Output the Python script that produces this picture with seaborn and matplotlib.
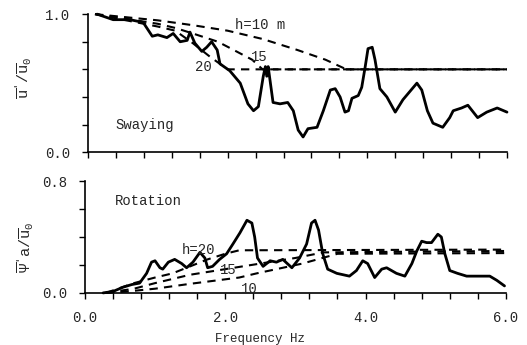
import numpy as np
import matplotlib
matplotlib.use("Agg")
import matplotlib.pyplot as plt
import seaborn as sns

# --------------------------------------------------------------
# Data
# --------------------------------------------------------------
# Swaying response (solid)
sway_f = [0.13, 0.36, 0.6, 0.79, 0.92, 1.0, 1.13, 1.22, 1.32, 1.42, 1.46, 1.53, 1.63,
          1.7, 1.77, 1.85, 1.89, 2.03, 2.18, 2.29, 2.37, 2.44, 2.51, 2.54, 2.56, 2.58,
          2.65, 2.75, 2.86, 2.94, 3.01, 3.08, 3.15, 3.28, 3.37, 3.47, 3.54, 3.61,
          3.68, 3.73, 3.78, 3.87, 3.92, 3.97, 4.01, 4.07, 4.11, 4.18, 4.28, 4.40,
          4.51, 4.71, 4.78, 4.86, 4.94, 5.08, 5.18, 5.23, 5.35, 5.44, 5.58, 5.71,
          5.86, 6.0]
sway_v = [1.0, 0.96, 0.96, 0.94, 0.84, 0.85, 0.83, 0.86, 0.80, 0.81, 0.87, 0.79, 0.73,
          0.76, 0.80, 0.74, 0.64, 0.59, 0.50, 0.35, 0.30, 0.33, 0.55, 0.62, 0.55, 0.62,
          0.36, 0.35, 0.36, 0.30, 0.16, 0.11, 0.17, 0.18, 0.30, 0.45, 0.46, 0.40,
          0.29, 0.30, 0.39, 0.41, 0.47, 0.62, 0.75, 0.76, 0.67, 0.46, 0.40, 0.29,
          0.38, 0.50, 0.45, 0.30, 0.21, 0.18, 0.25, 0.30, 0.32, 0.34, 0.25, 0.29,
          0.32, 0.29]

# Swaying, rigid-body estimates (dashed) for h = 10, 15, 20 m
sway_h10_f = [0.1, 0.5, 1.0, 1.5, 2.0, 2.5, 3.0, 3.4, 3.7, 6.0]
sway_h10_v = [1.0, 0.98, 0.955, 0.92, 0.88, 0.82, 0.74, 0.67, 0.6, 0.6]
sway_h15_f = [0.1, 0.5, 1.0, 1.25, 1.5, 1.86, 2.05, 2.2, 2.35, 2.5, 6.0]
sway_h15_v = [1.0, 0.97, 0.93, 0.90, 0.86, 0.80, 0.75, 0.71, 0.67, 0.6, 0.6]
sway_h20_f = [0.1, 0.5, 1.0, 1.25, 1.5, 1.75, 2.0, 6.0]
sway_h20_v = [1.0, 0.96, 0.91, 0.88, 0.79, 0.69, 0.6, 0.6]

# Rotation response (solid)
rot_f = [0.26, 0.4, 0.54, 0.67, 0.78, 0.88, 0.95, 1.0, 1.07, 1.11, 1.19, 1.28, 1.38,
         1.45, 1.54, 1.64, 1.71, 1.75, 1.82, 1.92, 2.02, 2.11, 2.21, 2.31, 2.38, 2.42,
         2.46, 2.54, 2.64, 2.73, 2.82, 2.95, 3.06, 3.16, 3.23, 3.28, 3.33, 3.39,
         3.46, 3.59, 3.77, 3.87, 3.96, 4.03, 4.13, 4.23, 4.30, 4.44, 4.56, 4.66,
         4.73, 4.80, 4.87, 4.94, 5.03, 5.08, 5.13, 5.20, 5.31, 5.44, 5.63, 5.77,
         5.87, 5.98]
rot_v = [0.0, 0.01, 0.04, 0.06, 0.07, 0.14, 0.22, 0.23, 0.18, 0.17, 0.22, 0.24, 0.21,
         0.18, 0.22, 0.29, 0.25, 0.18, 0.19, 0.24, 0.28, 0.35, 0.43, 0.52, 0.50, 0.40,
         0.25, 0.19, 0.23, 0.22, 0.24, 0.18, 0.25, 0.35, 0.50, 0.52, 0.45, 0.28,
         0.17, 0.14, 0.12, 0.16, 0.23, 0.21, 0.11, 0.17, 0.18, 0.14, 0.12, 0.21,
         0.30, 0.37, 0.36, 0.36, 0.42, 0.40, 0.28, 0.16, 0.14, 0.12, 0.12, 0.12,
         0.09, 0.05]

# Rotation, estimates (dashed) for h = 10, 15, 20 m
rot_h10_f = [0.3, 0.6, 1.0, 1.5, 2.2, 2.45, 3.1, 3.6, 6.0]
rot_h10_v = [0.0, 0.01, 0.03, 0.065, 0.11, 0.14, 0.21, 0.28, 0.285]
rot_h15_f = [0.3, 0.7, 1.0, 1.5, 2.0, 2.5, 3.0, 3.4, 6.0]
rot_h15_v = [0.0, 0.03, 0.07, 0.13, 0.17, 0.21, 0.25, 0.29, 0.30]
rot_h20_f = [0.3, 0.7, 1.0, 1.25, 1.5, 1.75, 2.0, 2.2, 6.0]
rot_h20_v = [0.0, 0.07, 0.11, 0.14, 0.19, 0.24, 0.28, 0.305, 0.31]

x_ticks = np.arange(0, 6.01, 0.4)
x_labels = {0.0: "0.0", 2.0: "2.0", 4.0: "4.0", 6.0: "6.0"}

# --------------------------------------------------------------
# Style
# --------------------------------------------------------------
sns.set_style("ticks")
plt.rcParams["font.family"] = ["Liberation Mono", "DejaVu Sans Mono"]
plt.rcParams["mathtext.fontset"] = "custom"
plt.rcParams["mathtext.rm"] = "Liberation Mono"
plt.rcParams["mathtext.it"] = "Liberation Mono"
plt.rcParams["font.size"] = 10

fig = plt.figure(figsize=(5.27, 3.45), dpi=100)
ax1 = fig.add_axes([0.167, 0.559, 0.795, 0.400])
ax2 = fig.add_axes([0.161, 0.151, 0.799, 0.324])

dash = (0, (4, 3))
solid_kw = dict(color="black", lw=2.0, clip_on=False)
dash_kw = dict(color="black", lw=1.5, linestyle=dash, clip_on=False)

# Swaying panel
sns.lineplot(x=sway_f, y=sway_v, ax=ax1, **solid_kw)
for f, v in [(sway_h10_f, sway_h10_v), (sway_h15_f, sway_h15_v), (sway_h20_f, sway_h20_v)]:
    sns.lineplot(x=f, y=v, ax=ax1, **dash_kw)

# Rotation panel
sns.lineplot(x=rot_f, y=rot_v, ax=ax2, **solid_kw)
for f, v in [(rot_h10_f, rot_h10_v), (rot_h15_f, rot_h15_v), (rot_h20_f, rot_h20_v)]:
    sns.lineplot(x=f, y=v, ax=ax2, **dash_kw)

for ax in (ax1, ax2):
    ax.set_xlim(0, 6)
    ax.set_xticks(x_ticks)
    ax.set_xticklabels([x_labels.get(round(t, 1), "") for t in x_ticks])
    ax.tick_params(direction="out", length=4, width=1, color="black",
                   labelsize=10, pad=9)
    for s in ("left", "bottom"):
        ax.spines[s].set_linewidth(1.2)
        ax.spines[s].set_color("black")
    sns.despine(ax=ax)

ax1.set_ylim(0, 1.0)
ax1.set_yticks([0, 0.2, 0.4, 0.6, 0.8, 1.0])
ax1.set_yticklabels(["0.0", "", "", "", "", "1.0"])
ax1.tick_params(axis="x", labelbottom=False)

ax2.set_ylim(0, 0.8)
ax2.set_yticks([0, 0.2, 0.4, 0.6, 0.8])
ax2.set_yticklabels(["0.0", "", "", "", "0.8"])

# Axis labels
ax1.set_ylabel(r"$\overline{u}'/\overline{u}_0$", fontsize=11)
ax1.yaxis.set_label_coords(-0.13, 0.54)
ax2.set_ylabel(r"$\overline{\Psi}'a/\overline{u}_0$", fontsize=11)
ax2.yaxis.set_label_coords(-0.115, 0.41)
ax2.set_xlabel("Frequency Hz", fontsize=9)
ax2.xaxis.set_label_coords(0.416, -0.36)

# Annotations
ax1.text(0.39, 0.20, "Swaying", fontsize=10, va="center")
ax1.text(2.1, 0.92, "h=10 m", fontsize=10, va="center")
ax1.text(2.45, 0.69, "15", fontsize=10, va="center", ha="center")
ax1.text(1.65, 0.62, "20", fontsize=10, va="center", ha="center")

ax2.text(0.43, 0.66, "Rotation", fontsize=10, va="center")
ax2.text(1.38, 0.31, "h=20", fontsize=10, va="center")
ax2.text(2.04, 0.166, "15", fontsize=10, va="center", ha="center")
ax2.text(2.35, 0.03, "10", fontsize=10, va="center", ha="center")

fig.savefig("out.png", dpi=100)
